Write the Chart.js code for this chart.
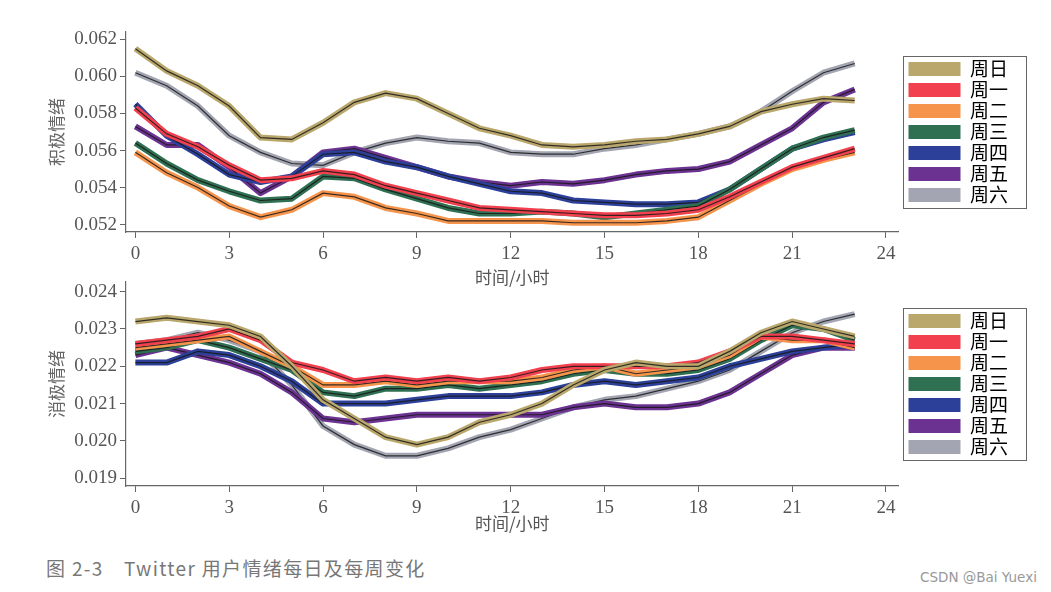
<!DOCTYPE html>
<html>
<head>
<meta charset="utf-8">
<script src="https://cdn.jsdelivr.net/npm/chart.js@4.4.1/dist/chart.umd.min.js"></script>
<style>
  body { margin: 0; width: 1051px; height: 592px; background: #fff; position: relative; overflow: hidden; }
  .box { position: absolute; left: 0; width: 1051px; height: 290px; }
  #topBox { top: 0; }
  #bottomBox { top: 250px; }
  #caption { position: absolute; left: 46px; top: 554px; font-family: "Noto Sans CJK SC", "Noto Sans", sans-serif; font-size: 19px; color: #777; letter-spacing: 1.35px; }
  #mark { position: absolute; left: 920px; top: 569px; font-family: "DejaVu Sans", sans-serif; font-size: 13.5px; color: #999; }
</style>
</head>
<body>
<div class="box" id="topBox"><canvas id="topChart"></canvas></div>
<div class="box" id="bottomBox"><canvas id="bottomChart"></canvas></div>
<div id="caption">图 2-3　Twitter 用户情绪每日及每周变化</div>
<div id="mark">CSDN @Bai Yuexi</div>
<script>
// 横轴：小时
const hours = [0, 1, 2, 3, 4, 5, 6, 7, 8, 9, 10, 11, 12, 13, 14, 15, 16, 17, 18, 19, 20, 21, 22, 23];
const days = ["周日", "周一", "周二", "周三", "周四", "周五", "周六"];
const xTicks = [0, 3, 6, 9, 12, 15, 18, 21, 24];
const topYTicks = [0.052, 0.054, 0.056, 0.058, 0.060, 0.062];
const bottomYTicks = [0.019, 0.020, 0.021, 0.022, 0.023, 0.024];

// 积极情绪
const posSun = [0.0615, 0.0603, 0.0595, 0.0584, 0.0567, 0.0566, 0.0575, 0.0586, 0.0591, 0.0588, 0.0580, 0.0572, 0.0568, 0.0563, 0.0562, 0.0563, 0.0565, 0.0566, 0.0569, 0.0573, 0.0581, 0.0585, 0.0588, 0.0587];
const posMon = [0.0583, 0.0569, 0.0562, 0.0552, 0.0544, 0.0545, 0.0549, 0.0547, 0.0541, 0.0537, 0.0533, 0.0529, 0.0528, 0.0527, 0.0526, 0.0525, 0.0525, 0.0526, 0.0528, 0.0535, 0.0543, 0.0551, 0.0556, 0.0561];
const posTue = [0.0559, 0.0548, 0.0540, 0.0530, 0.0524, 0.0528, 0.0537, 0.0535, 0.0529, 0.0526, 0.0522, 0.0522, 0.0522, 0.0522, 0.0521, 0.0521, 0.0521, 0.0522, 0.0524, 0.0533, 0.0542, 0.0550, 0.0555, 0.0559];
const posWed = [0.0564, 0.0553, 0.0544, 0.0538, 0.0533, 0.0534, 0.0546, 0.0545, 0.0539, 0.0534, 0.0529, 0.0526, 0.0526, 0.0527, 0.0526, 0.0524, 0.0526, 0.0528, 0.0530, 0.0539, 0.0550, 0.0561, 0.0567, 0.0571];
const posThu = [0.0585, 0.0568, 0.0558, 0.0547, 0.0543, 0.0546, 0.0558, 0.0559, 0.0554, 0.0551, 0.0546, 0.0542, 0.0538, 0.0537, 0.0533, 0.0532, 0.0531, 0.0531, 0.0532, 0.0539, 0.0550, 0.0561, 0.0566, 0.0570];
const posFri = [0.0573, 0.0563, 0.0563, 0.0551, 0.0537, 0.0546, 0.0559, 0.0561, 0.0556, 0.0551, 0.0546, 0.0543, 0.0541, 0.0543, 0.0542, 0.0544, 0.0547, 0.0549, 0.0550, 0.0554, 0.0563, 0.0572, 0.0586, 0.0593];
const posSat = [0.0602, 0.0595, 0.0584, 0.0568, 0.0559, 0.0553, 0.0552, 0.0559, 0.0564, 0.0567, 0.0565, 0.0564, 0.0559, 0.0558, 0.0558, 0.0561, 0.0563, 0.0566, 0.0569, 0.0573, 0.0581, 0.0592, 0.0602, 0.0607];

// 消极情绪
const negSun = [0.0232, 0.0233, 0.0232, 0.0231, 0.0228, 0.0220, 0.0211, 0.0206, 0.0201, 0.0199, 0.0201, 0.0205, 0.0207, 0.0210, 0.0215, 0.0219, 0.0221, 0.0220, 0.0220, 0.0224, 0.0229, 0.0232, 0.0230, 0.0228];
const negMon = [0.0226, 0.0227, 0.0228, 0.0230, 0.0227, 0.0221, 0.0219, 0.0216, 0.0217, 0.0216, 0.0217, 0.0216, 0.0217, 0.0219, 0.0220, 0.0220, 0.0220, 0.0220, 0.0221, 0.0224, 0.0228, 0.0228, 0.0227, 0.0226];
const negTue = [0.0225, 0.0226, 0.0227, 0.0228, 0.0224, 0.0220, 0.0215, 0.0215, 0.0216, 0.0215, 0.0216, 0.0216, 0.0216, 0.0217, 0.0219, 0.0220, 0.0218, 0.0219, 0.0220, 0.0223, 0.0228, 0.0227, 0.0227, 0.0225];
const negWed = [0.0224, 0.0225, 0.0227, 0.0225, 0.0222, 0.0219, 0.0213, 0.0212, 0.0214, 0.0214, 0.0215, 0.0214, 0.0215, 0.0216, 0.0218, 0.0219, 0.0218, 0.0218, 0.0219, 0.0222, 0.0227, 0.0231, 0.0230, 0.0227];
const negThu = [0.0221, 0.0221, 0.0224, 0.0223, 0.0220, 0.0216, 0.0210, 0.0210, 0.0210, 0.0211, 0.0212, 0.0212, 0.0212, 0.0213, 0.0215, 0.0216, 0.0215, 0.0216, 0.0217, 0.0220, 0.0222, 0.0224, 0.0225, 0.0226];
const negFri = [0.0223, 0.0225, 0.0223, 0.0221, 0.0218, 0.0213, 0.0206, 0.0205, 0.0206, 0.0207, 0.0207, 0.0207, 0.0207, 0.0207, 0.0209, 0.0210, 0.0209, 0.0209, 0.0210, 0.0213, 0.0218, 0.0223, 0.0225, 0.0225];
const negSat = [0.0226, 0.0227, 0.0229, 0.0227, 0.0224, 0.0215, 0.0204, 0.0199, 0.0196, 0.0196, 0.0198, 0.0201, 0.0203, 0.0206, 0.0209, 0.0211, 0.0212, 0.0214, 0.0216, 0.0219, 0.0224, 0.0229, 0.0232, 0.0234];

const dayColors = ["#b9a76c", "#f2404e", "#f6944c", "#2f6f52", "#2c409a", "#6b3292", "#a3a6b2"];

const serif = "'Liberation Serif', 'DejaVu Serif', serif";
const cjk = "'Noto Sans CJK SC', sans-serif";

// 图例右移并按绘图区垂直居中
const legendOffset = {
  id: "legendOffset",
  afterLayout(chart) {
    const lg = chart.legend;
    if (!lg) return;
    lg.left += 8;
    lg.right += 8;
    lg.top = chart.chartArea.top;
    lg.bottom = chart.chartArea.bottom;
    lg.height = lg.bottom - lg.top;
  }
};

// 图例外框
const legendFrame = {
  id: "legendFrame",
  afterDraw(chart) {
    const boxes = chart.legend && chart.legend.legendHitBoxes;
    if (!boxes || !boxes.length) return;
    let x0 = Infinity, y0 = Infinity, x1 = -Infinity, y1 = -Infinity;
    boxes.forEach(b => {
      x0 = Math.min(x0, b.left); y0 = Math.min(y0, b.top);
      x1 = Math.max(x1, b.left + b.width); y1 = Math.max(y1, b.top + b.height);
    });
    const ctx = chart.ctx;
    ctx.save();
    ctx.strokeStyle = "#666";
    ctx.lineWidth = 1;
    ctx.strokeRect(Math.round(x0 - 5) + 0.5, Math.round(y0 - 4) + 0.5, Math.round(x1 - x0 + 23), Math.round(y1 - y0 + 7));
    ctx.restore();
  }
};

// 每条线 = 彩色粗线 + 黑色细芯
function buildDatasets(seriesList) {
  const sets = [];
  seriesList.forEach((values, i) => {
    const pts = values.map((v, k) => ({ x: hours[k], y: v }));
    sets.push({ label: days[i], isCore: true, data: pts, borderColor: "rgba(25,25,25,0.85)", borderWidth: 1.2, pointRadius: 0, tension: 0 });
    sets.push({ label: days[i], data: pts, borderColor: dayColors[i], backgroundColor: dayColors[i], borderWidth: 6, pointRadius: 0, tension: 0, borderJoinStyle: "round" });
  });
  return sets;
}

function makeChart(canvasId, seriesList, yTitle, yMin, yMax, yTicks, xAxisHeight, bottomPad) {
  const ctx = document.getElementById(canvasId).getContext("2d");
  return new Chart(ctx, {
    type: "line",
    data: { datasets: buildDatasets(seriesList) },
    options: {
      responsive: true,
      maintainAspectRatio: false,
      animation: false,
      layout: { padding: { left: 46, top: 32, right: 41, bottom: bottomPad } },
      plugins: {
        tooltip: { enabled: false },
        legend: {
          position: "right",
          labels: {
            boxWidth: 52,
            boxHeight: 14,
            padding: 2,
            color: "#3a3a3a",
            font: { family: cjk, size: 19 },
            generateLabels: function (chart) {
              return chart.data.datasets
                .map((ds, i) => ({ text: ds.label, fillStyle: ds.borderColor, strokeStyle: ds.borderColor, lineWidth: 0, hidden: false, datasetIndex: i, isCore: ds.isCore }))
                .filter(item => !item.isCore);
            }
          }
        }
      },
      scales: {
        x: {
          type: "linear",
          min: -0.3,
          max: 24.4,
          afterBuildTicks: axis => { axis.ticks = xTicks.map(v => ({ value: v })); },
          afterFit: axis => { axis.height = xAxisHeight; },
          grid: { drawOnChartArea: false, drawTicks: true, tickLength: 6, color: "#666" },
          border: { color: "#666", width: 1.2 },
          ticks: { color: "#555", padding: 5, font: { family: serif, size: 19 }, maxRotation: 0, callback: v => String(v) },
          title: { display: true, text: "时间/小时", color: "#555", font: { family: cjk, size: 17 }, padding: { top: 0, bottom: 2 } }
        },
        y: {
          type: "linear",
          min: yMin,
          max: yMax,
          afterBuildTicks: axis => { axis.ticks = yTicks.map(v => ({ value: v })); },
          afterFit: axis => { axis.width = 80; },
          grid: { drawOnChartArea: false, drawTicks: true, tickLength: 6, color: "#666" },
          border: { color: "#666", width: 1.2 },
          ticks: { color: "#555", padding: 3, font: { family: serif, size: 19 }, callback: v => v.toFixed(3) },
          title: { display: true, text: yTitle, color: "#666", font: { family: cjk, size: 17 }, padding: 0 }
        }
      }
    },
    plugins: [legendOffset, legendFrame]
  });
}

document.addEventListener("DOMContentLoaded", function () {
  makeChart("topChart", [posSun, posMon, posTue, posWed, posThu, posFri, posSat], "积极情绪", 0.0516, 0.0624, topYTicks, 58, 0);
  makeChart("bottomChart", [negSun, negMon, negTue, negWed, negThu, negFri, negSat], "消极情绪", 0.01879, 0.02426, bottomYTicks, 50, 4);
});
</script>
</body>
</html>
